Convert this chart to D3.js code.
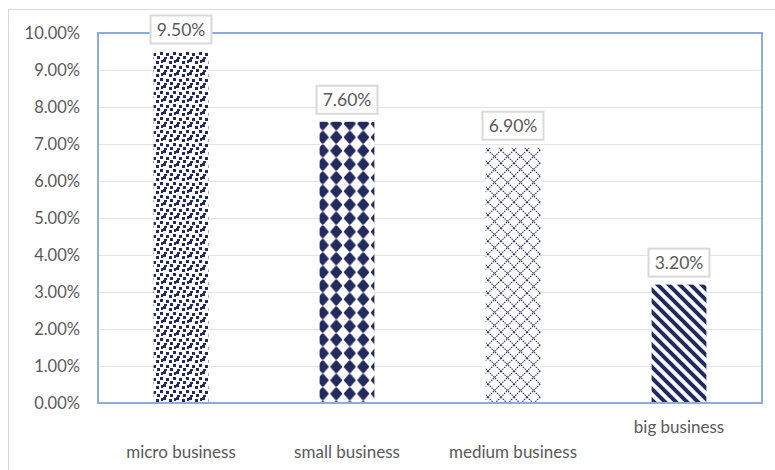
<!DOCTYPE html>
<html>
<head>
<meta charset="utf-8">
<script src="https://cdn.jsdelivr.net/npm/d3@7"></script>
<style>
  body { margin: 0; background: #fff; }
  text { font-family: Lato, "Open Sans", sans-serif; }
</style>
</head>
<body>
<div id="chart"></div>
<script>
var categories = ["micro business", "small business", "medium business", "big business"];
var values = [9.5, 7.6, 6.9, 3.2];
var labels = ["9.50%", "7.60%", "6.90%", "3.20%"];
var yTicks = [0, 1, 2, 3, 4, 5, 6, 7, 8, 9, 10];
var patterns = ["confetti", "sphere", "diamond", "stripe"];

var W = 775, H = 470;
var margin = {top: 33, right: 13, bottom: 67, left: 98};
var width = W - margin.left - margin.right,
    height = H - margin.top - margin.bottom;
var navy = "#222a5e";

var svg = d3.select("#chart").append("svg")
    .attr("width", W)
    .attr("height", H);

// patterns
var defs = svg.append("defs");

var p1 = defs.append("pattern").attr("id", "confetti")
    .attr("patternUnits", "userSpaceOnUse").attr("width", 13).attr("height", 13);
p1.append("rect").attr("width", 13).attr("height", 13).attr("fill", "#fff");
[[0, 0], [6, 2], [10, 6], [3, 7], [7, 10], [1, 11], [11, 1]].forEach(function (s) {
    p1.append("rect").attr("x", s[0]).attr("y", s[1]).attr("width", 3).attr("height", 3).attr("fill", navy);
});

var p2 = defs.append("pattern").attr("id", "sphere")
    .attr("patternUnits", "userSpaceOnUse").attr("width", 13.5).attr("height", 13.5)
    .attr("x", 2).attr("y", 3);
p2.append("rect").attr("width", 13.5).attr("height", 13.5).attr("fill", "#fff");
p2.append("path").attr("d", "M6.75,2L11,6.75L6.75,11.5L2.5,6.75Z").attr("fill", navy)
    .attr("stroke", navy).attr("stroke-width", 3.2).attr("stroke-linejoin", "round");

var p3 = defs.append("pattern").attr("id", "diamond")
    .attr("patternUnits", "userSpaceOnUse").attr("width", 13).attr("height", 13);
p3.append("rect").attr("width", 13).attr("height", 13).attr("fill", "#fff");
p3.append("path").attr("d", "M0,0L13,13M13,0L0,13")
    .attr("stroke", navy).attr("stroke-width", 1.1).attr("stroke-dasharray", "1.5,1");

var p4 = defs.append("pattern").attr("id", "stripe")
    .attr("patternUnits", "userSpaceOnUse").attr("width", 11).attr("height", 11);
p4.append("rect").attr("width", 11).attr("height", 11).attr("fill", "#fff");
p4.append("path").attr("d", "M-3,-3L14,14M-3,8L3,14M8,-3L14,3")
    .attr("stroke", navy).attr("stroke-width", 4);

// outer chart border
svg.append("rect")
    .attr("x", 8.5).attr("y", 9.5)
    .attr("width", W).attr("height", H)
    .attr("fill", "none").attr("stroke", "#d9d9d9");

var g = svg.append("g")
    .attr("transform", "translate(" + margin.left + "," + margin.top + ")");

var x = d3.scaleBand().domain(categories).range([0, width]).paddingInner(0.67).paddingOuter(0.335);
var y = d3.scaleLinear().domain([0, 10]).range([height, 0]);

// gridlines
g.selectAll(".grid")
    .data(yTicks)
    .enter().append("line")
    .attr("x1", 0).attr("x2", width)
    .attr("y1", function (d) { return Math.round(y(d)) + 0.5; })
    .attr("y2", function (d) { return Math.round(y(d)) + 0.5; })
    .attr("stroke", "#e3e3e3");

// y axis labels
var yAxis = d3.axisLeft(y).tickValues(yTicks).tickSize(0).tickPadding(18)
    .tickFormat(function (d) { return d.toFixed(2) + "%"; });
var ya = g.append("g").call(yAxis);
ya.select(".domain").remove();
ya.selectAll("text").attr("fill", "#595959").style("font-size", "16.5px");

// bars
g.selectAll(".bar")
    .data(values)
    .enter().append("rect")
    .attr("x", function (d, i) { return x(categories[i]); })
    .attr("width", x.bandwidth())
    .attr("y", function (d) { return y(d); })
    .attr("height", function (d) { return height - y(d); })
    .attr("fill", function (d, i) { return "url(#" + patterns[i] + ")"; });

// plot area border
g.append("rect")
    .attr("x", 0).attr("y", 0)
    .attr("width", width).attr("height", height)
    .attr("fill", "none").attr("stroke", "#8faadc").attr("stroke-width", 2);

// data labels with boxes
var lab = g.selectAll(".lab")
    .data(values)
    .enter().append("g")
    .attr("transform", function (d, i) {
        return "translate(" + (x(categories[i]) + x.bandwidth() / 2) + "," + (y(d) - 22) + ")";
    });
lab.append("rect")
    .attr("x", -30.5).attr("y", -14)
    .attr("width", 61).attr("height", 28)
    .attr("fill", "#fff").attr("stroke", "#d9d9d9").attr("stroke-width", 2);
lab.append("text")
    .attr("text-anchor", "middle")
    .attr("dy", "0.35em")
    .attr("fill", "#595959")
    .style("font-size", "17.5px")
    .text(function (d, i) { return labels[i]; });

// category labels
g.selectAll(".cat")
    .data(categories)
    .enter().append("text")
    .attr("x", function (d) { return x(d) + x.bandwidth() / 2; })
    .attr("y", function (d, i) { return i === 3 ? height + 24 : height + 49; })
    .attr("dy", "0.35em")
    .attr("text-anchor", "middle")
    .attr("fill", "#595959")
    .style("font-size", "17px")
    .text(function (d) { return d; });
</script>
</body>
</html>
